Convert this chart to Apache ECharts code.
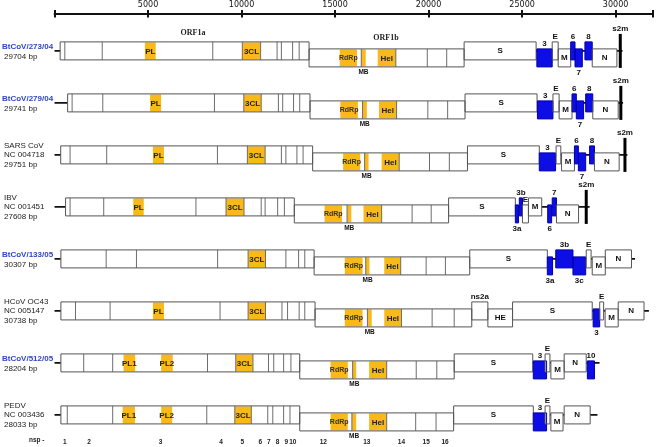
<!DOCTYPE html>
<html><head><meta charset="utf-8">
<script src="https://cdn.jsdelivr.net/npm/echarts@6/dist/echarts.min.js"></script>
<style>html,body{margin:0;padding:0;background:#fff}#c{width:656px;height:447px}</style>
</head><body><div id="c"></div>
<script>
// ---------- data (positions in bp on the shared genome scale) ----------
const rowLabelLines = [
  ['BtCoV/273/04', '29704 bp'],
  ['BtCoV/279/04', '29741 bp'],
  ['SARS CoV', 'NC 004718', '29751 bp'],
  ['IBV', 'NC 001451', '27608 bp'],
  ['BtCoV/133/05', '30307 bp'],
  ['HCoV OC43', 'NC 005147', '30738 bp'],
  ['BtCoV/512/05', '28204 bp'],
  ['PEDV', 'NC 003436', '28033 bp']
];
const newIsolate = [1, 1, 0, 0, 1, 0, 1, 0];

// ORF1a [start, end]; ORF1b runs from ORF1a end to orf1bEnd
const orf1a = [[300,13610],[700,13660],[330,13800],[590,12820],[340,13880],[340,13930],[340,13110],[340,13110]];
const orf1bEnd = [21900, 21950, 22080, 21070, 22200, 22310, 21370, 21340];

// nsp cleavage boundaries
const nspBounds1a = [
  [550,2550,8460,10040,11020,11900,12130,12730,13080],
  [940,2580,8550,10120,11050,11970,12200,12780,13110],
  [830,2790,8710,10310,11260,12130,12370,12960,13290],
  [830,2630,7560,9170,10130,11050,11260,11930,12290],
  [2760,4380,8720,10350,11280,12370,13050,13380],
  [1120,2970,8850,10350,11280,12160,12460,13080,13380],
  [1560,3110,8180,9690,10610,11440,11720,12250,12640],
  [680,3110,8140,9640,10520,11400,11670,12250,12590]
];
const nspBounds1b = [
  [16400,18250,19930,20970],
  [16470,18290,19960,21020],
  [16580,18430,20050,21110],
  [15640,17490,19120,20140],
  [16640,18510,19870,20900],
  [16730,18550,20190,21370],
  [15940,17760,19340,20440],
  [15900,17760,19310,20400]
];

// functional domains [label, start, end]
const domains = [
  [['PL',4830,5410],['3CL',10040,11020],['RdRp',15250,16170],['MB',16400,16640],['Hel',17280,18250]],
  [['PL',5110,5700],['3CL',10120,11050],['RdRp',15280,16220],['MB',16470,16700],['Hel',17350,18290]],
  [['PL',5260,5850],['3CL',10310,11260],['RdRp',15430,16340],['MB',16580,16790],['Hel',17490,18430]],
  [['PL',4210,4770],['3CL',9170,10130],['RdRp',14440,15370],['MB',15640,15870],['Hel',16520,17490]],
  [['3CL',10350,11280],['RdRp',15520,16470],['MB',16640,16840],['Hel',17630,18510]],
  [['PL',5260,5850],['3CL',10350,11280],['RdRp',15520,16470],['MB',16750,16960],['Hel',17630,18550]],
  [['PL1',3690,4310],['PL2',5700,6320],['3CL',9690,10610],['RdRp',14760,15680],['MB',15940,16130],['Hel',16820,17760]],
  [['PL1',3640,4300],['PL2',5700,6290],['3CL',9640,10520],['RdRp',14760,15680],['MB',15900,16130],['Hel',16820,17760]]
];

// downstream genes [label, start, end, frame (0/1), kind ('s' structural, 'a' accessory), label side]
const genes = [
  [['S',21900,25750,0,'s','i'],['3',25790,26610,1,'a','a'],['E',26610,26930,0,'s','a'],['M',26930,27600,1,'s','i'],['6',27600,27830,0,'a','a'],['7',27830,28220,1,'a','b'],['8',28360,28750,0,'a','a'],['N',28750,30070,1,'s','i']],
  [['S',21950,25800,0,'s','i'],['3',25820,26650,1,'a','a'],['E',26650,26980,0,'s','a'],['M',26980,27670,1,'s','i'],['6',27670,27900,0,'a','a'],['7',27900,28290,1,'a','b'],['8',28400,28780,0,'a','a'],['N',28780,30140,1,'s','i']],
  [['S',22080,25920,0,'s','i'],['3',25920,26790,1,'a','a'],['E',26820,27070,0,'s','a'],['M',27110,27800,1,'s','i'],['6',27800,28010,0,'a','a'],['7',28010,28400,1,'a','b'],['8',28610,28870,0,'a','a'],['N',28870,30190,1,'s','i']],
  [['S',21070,24640,0,'s','i'],['3a',24640,24810,1,'a','b'],['3b',24850,25020,0,'a','a'],['E',25020,25340,1,'s','a'],['M',25340,26050,0,'s','i'],['6',26370,26580,1,'a','b'],['7',26610,26840,0,'a','a'],['N',26840,28020,1,'s','i']],
  [['S',22200,26350,0,'s','i'],['3a',26350,26630,1,'a','b'],['3b',26800,27720,0,'a','a'],['3c',27720,28400,1,'a','b'],['E',28430,28690,0,'s','a'],['M',28750,29450,1,'s','i'],['N',29450,30850,0,'s','i']],
  [['ns2a',22310,23170,0,'s','a'],['HE',23170,24490,1,'s','i'],['S',24490,28750,0,'s','i'],['3',28800,29150,1,'a','b'],['E',29150,29360,0,'s','a'],['M',29440,30140,1,'s','i'],['N',30140,31520,0,'s','i']],
  [['S',21370,25570,0,'s','i'],['3',25600,26310,1,'a','a'],['E',26230,26490,0,'s','a'],['M',26540,27250,1,'s','i'],['N',27250,28430,0,'s','i'],['10',28490,28870,1,'a','a']],
  [['S',21340,25600,0,'s','i'],['3',25600,26310,1,'a','a'],['E',26230,26490,0,'s','a'],['M',26540,27190,1,'s','i'],['N',27250,28640,0,'s','i']]
];

const s2mPos = [30250, 30280, 30500, 28430, null, null, null, null];
const genomeEnd = [30370, 30400, 30630, 28610, 31040, 31780, 29140, 29030];

const orfTitles = [['ORF1a', 7400, 0], ['ORF1b', 17720, 1]];
const nspNames = ['1','2','3','4','5','6','7','8','9','10','12','13','14','15','16'];
const nspLabelPos = [550,1840,5670,8900,10040,11000,11460,11930,12390,12740,14370,16700,18550,19870,20880];

// ---------- styling ----------
const ORANGE = '#f9b91b', BLUE = '#0d0de6', BLUE_EDGE = '#0000a8', BOX_EDGE = '#555', DIV = '#6d6d6d';
const SANS = '"Liberation Sans", Arial, sans-serif';
const H = 18;

function txt(text, x, y, font, fill, align) {
  return { type: 'text', z2: 20, style: { text, x, y, font, fill: fill || '#111', align: align || 'center', verticalAlign: 'middle' } };
}

function renderRow(params, api) {
  const i = params.dataIndex;
  const X = bp => api.coord([bp, i])[0];
  const yc = api.coord([0, i])[1];
  const top = f => f ? yc - 2 : yc - 9;
  const kids = [];

  // genome backbone line (UTRs / intergenic)
  kids.push({ type: 'line', shape: { x1: X(0), y1: yc, x2: X(genomeEnd[i]), y2: yc }, style: { stroke: '#111', lineWidth: 1.6 } });

  const boxes = [[null, orf1a[i][0], orf1a[i][1], 0, 's', null], [null, orf1a[i][1], orf1bEnd[i], 1, 's', null]].concat(genes[i]);
  boxes.forEach(b => {
    kids.push({ type: 'rect', shape: { x: X(b[1]), y: top(b[3]), width: X(b[2]) - X(b[1]), height: H },
      style: { fill: b[4] === 'a' ? BLUE : '#fff' } });
  });
  const d1aEnd = orf1a[i][1];
  domains[i].forEach(d => {
    const f = d[1] < d1aEnd ? 0 : 1;
    kids.push({ type: 'rect', shape: { x: X(d[1]), y: top(f) + 0.5, width: X(d[2]) - X(d[1]), height: H - 1 }, style: { fill: ORANGE } });
  });
  nspBounds1a[i].forEach(p => kids.push({ type: 'line', shape: { x1: X(p), y1: top(0), x2: X(p), y2: top(0) + H }, style: { stroke: DIV, lineWidth: 1 } }));
  nspBounds1b[i].forEach(p => kids.push({ type: 'line', shape: { x1: X(p), y1: top(1), x2: X(p), y2: top(1) + H }, style: { stroke: DIV, lineWidth: 1 } }));
  boxes.forEach(b => {
    kids.push({ type: 'rect', shape: { x: X(b[1]), y: top(b[3]), width: X(b[2]) - X(b[1]), height: H },
      style: { fill: null, stroke: b[4] === 'a' ? BLUE_EDGE : BOX_EDGE, lineWidth: 1 } });
  });
  domains[i].forEach(d => {
    const f = d[1] < d1aEnd ? 0 : 1;
    const cx = (X(d[1]) + X(d[2])) / 2;
    if (d[0] === 'MB') kids.push(txt('MB', cx, top(f) + H + 5.5, 'bold 6.5px ' + SANS));
    else if (d[0] === 'RdRp') kids.push(txt('RdRp', cx, top(f) + H / 2, 'bold 7px ' + SANS, '#333'));
    else kids.push(txt(d[0], cx, top(f) + H / 2 + 0.5, 'bold 8px ' + SANS, '#222'));
  });
  genes[i].forEach(g => {
    const cx = (X(g[1]) + X(g[2])) / 2;
    let y = top(g[3]) + H / 2;
    if (g[5] === 'a') y = top(g[3]) - 5;
    if (g[5] === 'b') y = top(g[3]) + H + 5.5;
    kids.push(txt(g[0], cx, y, 'bold 8px ' + SANS));
  });
  if (s2mPos[i] != null) {
    const sx = X(s2mPos[i]);
    kids.push({ type: 'line', z2: 15, shape: { x1: sx, y1: yc - 17, x2: sx, y2: yc + 17 }, style: { stroke: '#000', lineWidth: 3 } });
    kids.push(txt('s2m', sx, yc - 22, 'bold 8px ' + SANS));
  }
  if (i === 0) {
    orfTitles.forEach(t => kids.push(txt(t[0], X(t[1]), t[2] ? yc - 12.5 : yc - 18, 'bold 8px "Liberation Serif", "DejaVu Serif", serif', '#222')));
  }
  const lines = rowLabelLines[i];
  if (lines.length === 2) {
    kids.push(txt(lines[0], 2, yc - 4, (newIsolate[i] ? 'bold ' : '') + '8px ' + SANS, newIsolate[i] ? '#2f45c9' : '#222', 'left'));
    kids.push(txt(lines[1], 4, yc + 5.5, '8px ' + SANS, '#222', 'left'));
  } else {
    lines.forEach((l, k) => kids.push(txt(l, 4, yc - 9.5 + 9.5 * k, '8px ' + SANS, '#222', 'left')));
  }
  return { type: 'group', children: kids };
}

function renderNsp(params, api) {
  const i = params.dataIndex;
  const x = api.coord([nspLabelPos[i], 7])[0];
  const y = api.coord([0, 7])[1] + 27;
  return txt(nspNames[i], x, y, 'bold 6.5px ' + SANS, '#222');
}

const chart = echarts.init(document.getElementById('c'), null, { renderer: 'canvas' });
const axisBase = { type: 'value', position: 'top', min: 0, max: 32000, interval: 5000, splitLine: { show: false } };
chart.setOption({
  animation: false,
  backgroundColor: '#fff',
  grid: { left: 54.54, right: -3, top: 14, bottom: 0, containLabel: false },
  xAxis: [
    Object.assign({}, axisBase, {
      axisLine: { show: true, onZero: false, lineStyle: { color: '#111', width: 2 } },
      axisTick: { show: true, length: 4, lineStyle: { color: '#111', width: 2 } },
      axisLabel: { show: true, margin: 5, fontSize: 8, fontFamily: 'DejaVu Sans', color: '#111',
        formatter: v => (v > 0 && v % 5000 === 0) ? String(v) : '' }
    }),
    Object.assign({}, axisBase, {
      axisLine: { show: false, onZero: false },
      axisTick: { show: true, inside: true, length: 3.5, lineStyle: { color: '#111', width: 2 } },
      axisLabel: { show: false }
    })
  ],
  yAxis: { type: 'value', inverse: true, min: -0.7096, max: 7.617, show: false },
  graphic: [{ type: 'text', left: 29, top: 437, style: { text: 'nsp -', font: 'bold 6.5px ' + SANS, fill: '#222' } }],
  series: [
    { type: 'custom', clip: false, renderItem: renderRow, data: rowLabelLines.map((l, i) => [0, i]) },
    { type: 'custom', clip: false, renderItem: renderNsp, data: nspNames.map((n, i) => [nspLabelPos[i], 7]) }
  ]
});
</script>
</body></html>
